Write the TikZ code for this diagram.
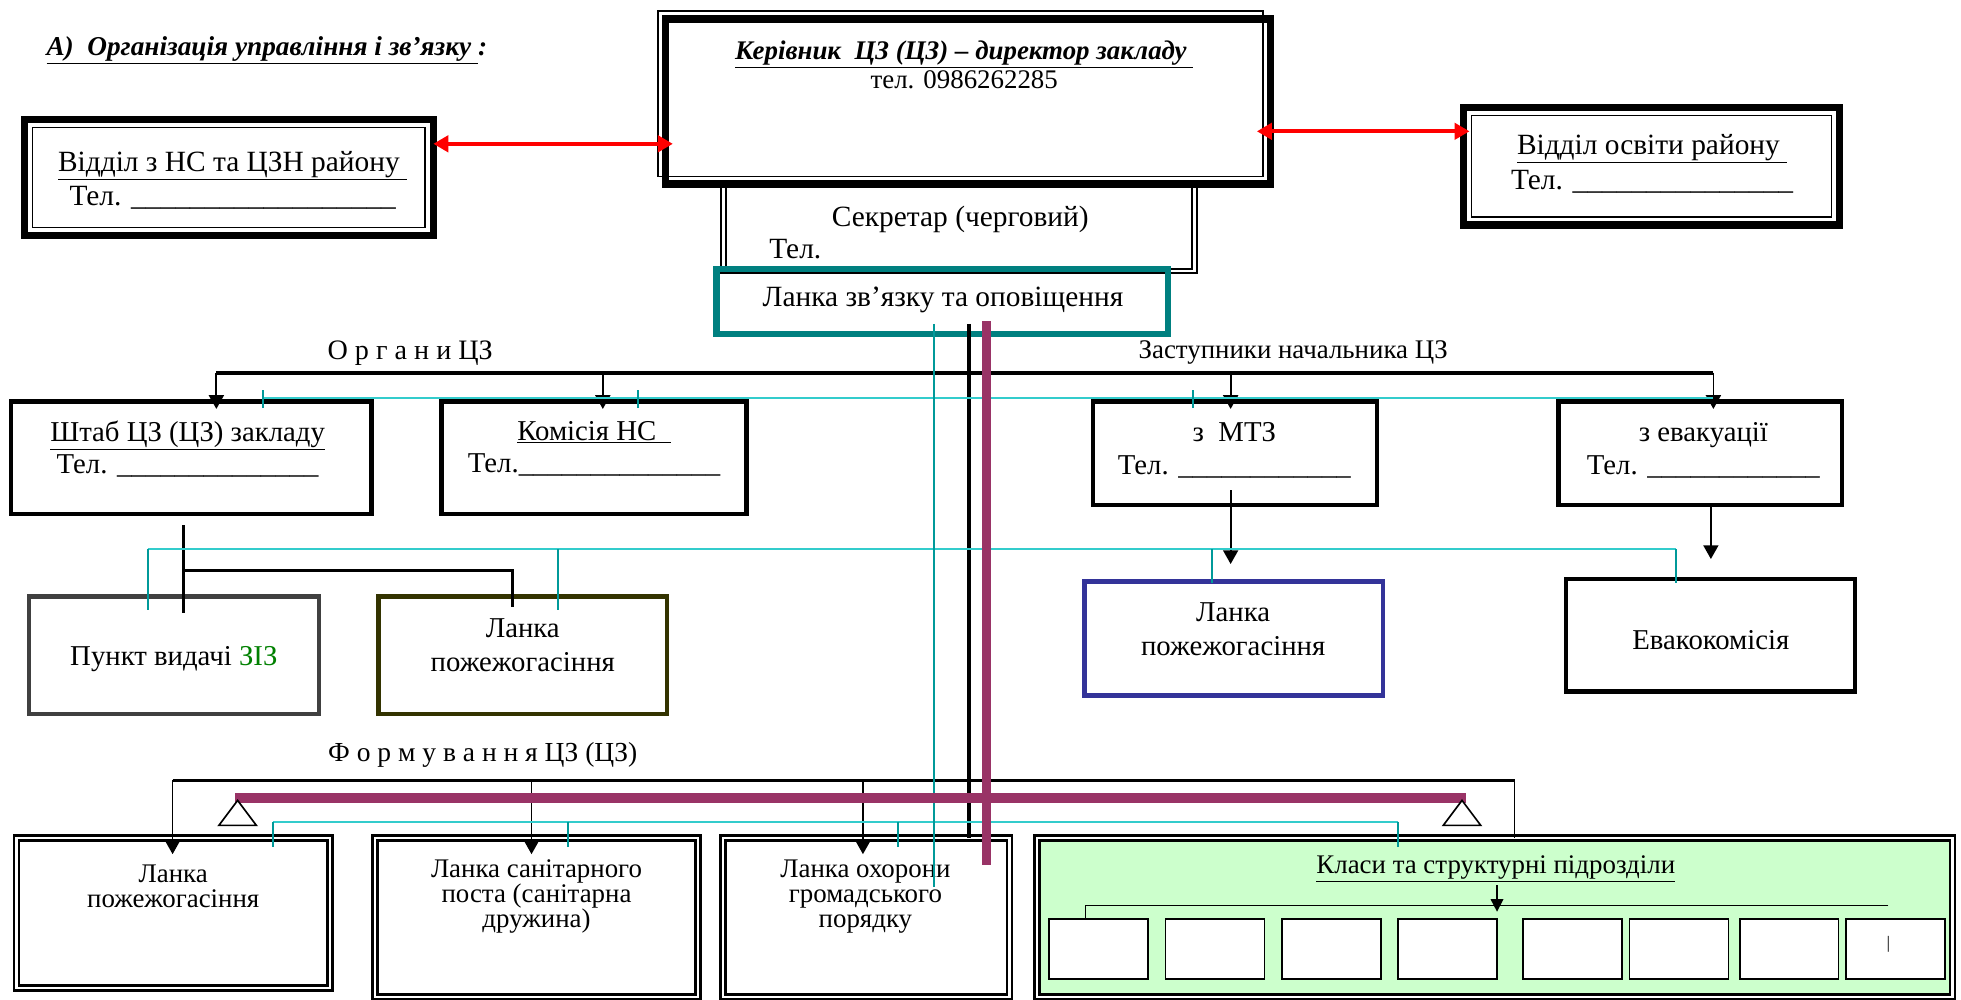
\documentclass[tikz,border=0pt]{standalone}
\usepackage{fontspec}
\setmainfont{Liberation Serif}
\usetikzlibrary{arrows.meta,positioning}

\definecolor{zvteal}{RGB}{0,128,128}
\definecolor{tkteal}{RGB}{0,153,153}
\definecolor{bsteal}{RGB}{51,204,204}
\definecolor{plum}{RGB}{153,51,102}
\definecolor{bluebox}{RGB}{51,51,153}
\definecolor{olivebox}{RGB}{51,51,0}
\definecolor{greybox}{RGB}{64,64,64}
\definecolor{classfill}{RGB}{204,255,204}
\definecolor{zizgreen}{RGB}{0,128,0}

\begin{document}
\begin{tikzpicture}[x=1pt,y=-1pt,>={Triangle[length=11pt,width=12pt]},
    txt/.style 2 args={font=\fontsize{#1}{#2}\selectfont,align=center,inner sep=0pt},
    sz/.style 2 args={minimum width=#1,minimum height=#2},
    hbox/.style={draw,line width=3.5pt,outer sep=0pt,inner sep=0pt},
    fbox/.style={draw,line width=6pt,outer sep=0pt,inner sep=0pt},
    dbox/.style={draw,double,line width=2pt,double distance=2pt,outer sep=0pt,inner sep=0pt},
    cls/.style={draw,fill=white,line width=1.4pt,minimum width=79,minimum height=48,inner sep=0pt},
    bus/.style={line width=3pt},
    drop/.style={line width=1.4pt},
    cyl/.style={bsteal,line width=1.5pt},
    cyd/.style={tkteal,line width=1.5pt},
    plm/.style={plum,line width=7.5pt},
    redarr/.style={<->,red,line width=3pt,>={Triangle[length=12pt,width=13pt]}}]
  \useasboundingbox (0,0) rectangle (1568,799);

  \node[anchor=west,inner sep=0pt,font=\fontsize{21.8}{24}\selectfont\bfseries\itshape] (title) at (37,40)
    {\underline{А)\ \ Організація управління і зв’язку\ }:};

  % top row
  \node[dbox,line width=1.6pt,sz={376.5}{69.5}] (sec) at (766.75,181.75) {};
  \node[fbox,sz={484}{132}] (dir) at (774,81) {};
  \draw[line width=1.2pt] ([shift={(-6pt,6pt)}]dir.north west) rectangle ([shift={(-6pt,6pt)}]dir.south east);
  \node[fbox,sz={327}{93}] (vnc) at (183,142) {};
  \draw[line width=1.2pt] ([shift={(6.5pt,-6.5pt)}]vnc.north west) rectangle ([shift={(-6.5pt,6.5pt)}]vnc.south east);
  \node[fbox,sz={301}{94}] (vos) at (1320.5,133) {};
  \draw[line width=1.2pt] ([shift={(6.5pt,-6.5pt)}]vos.north west) rectangle ([shift={(-6.5pt,6.5pt)}]vos.south east);
  \node[draw=zvteal,line width=5pt,outer sep=0pt,sz={361}{52}] (link) at (753.5,241) {};

  \node[txt={21.5}{23}] (dirT) at (771,52) {\textbf{\textit{\underline{Керівник\ \ ЦЗ (ЦЗ) – директор закладу\ }}}\\ тел. 0986262285};
  \node[txt={23.5}{27}] (vncT) at (186,144) {\underline{Відділ з НС та ЦЗН району\ }\\ Тел. \_\_\_\_\_\_\_\_\_\_\_\_\_\_\_\_\_\_};
  \node[txt={23.5}{28}] (vosT) at (1321,131) {\underline{Відділ освіти району\ }\\ Тел. \_\_\_\_\_\_\_\_\_\_\_\_\_\_\_};
  \node[txt={23.5}{26},align=left,anchor=west] (secT) at (615,186) {\hspace*{50pt}Секретар (черговий)\\ Тел.};
  \node[txt={23.5}{26}] (linkT) at (754,240) {Ланка зв’язку та оповіщення};

  % second row
  \node[txt={22.5}{26}] (orgL) at (328,282) {О р г а н и ЦЗ};
  \node[txt={21.5}{26}] (zamL) at (1034,282) {Заступники начальника ЦЗ};
  \node[hbox,sz={288}{90}] (shtab) at (153,366) {};
  \node[hbox,sz={244}{90}] (kom) at (475,366) {};
  \node[hbox,sz={227}{83}] (mtz) at (987.5,362.5) {};
  \node[hbox,sz={227}{83}] (evak) at (1359.5,362.5) {};
  \node[txt={23}{26}] (shtabT) at (150,359) {\underline{Штаб ЦЗ (ЦЗ) закладу}\\ Тел. \_\_\_\_\_\_\_\_\_\_\_\_\_\_};
  \node[txt={23}{26}] (komT) at (475,359) {\underline{Комісія НС\ \ }\\ Тел.\_\_\_\_\_\_\_\_\_\_\_\_\_\_};
  \node[txt={23}{26}] (mtzT) at (987,360) {з\ \ МТЗ\\ Тел. \_\_\_\_\_\_\_\_\_\_\_\_};
  \node[txt={23}{26}] (evakT) at (1362,360) {з евакуації\\ Тел. \_\_\_\_\_\_\_\_\_\_\_\_};

  % third row
  \node[draw=greybox,line width=3.5pt,outer sep=0pt,sz={232}{94}] (punkt) at (139,524) {};
  \node[draw=olivebox,line width=3.5pt,outer sep=0pt,sz={231}{94}] (lpA) at (418,524) {};
  \node[draw=bluebox,line width=3.5pt,outer sep=0pt,sz={239}{91}] (lpB) at (986.5,510.5) {};
  \node[hbox,sz={231}{90}] (evk) at (1367.5,508) {};
  \node[txt={23}{26}] (punktT) at (139,527) {Пункт видачі \textcolor{zizgreen}{ЗІЗ}};
  \node[txt={23}{27}] (lpAT) at (418,516) {Ланка\\ пожежогасіння};
  \node[txt={23}{27}] (lpBT) at (986,503) {Ланка\\ пожежогасіння};
  \node[txt={23}{26}] (evkT) at (1368,512) {Евакокомісія};

  % bottom row
  \node[txt={22}{26}] (frmL) at (386,604) {Ф о р м у в а н н я ЦЗ (ЦЗ)};
  \node[dbox,sz={251}{120}] (b1) at (138.5,730) {};
  \node[dbox,sz={258}{127}] (b2) at (429,733.5) {};
  \node[dbox,sz={229}{127}] (b3) at (692.5,733.5) {};
  \node[dbox,fill=classfill,sz={732}{127}] (cls) at (1195,733.5) {};
  \node[txt={21.5}{20}] (b1T) at (138.5,709) {Ланка\\ пожежогасіння};
  \node[txt={21.5}{20}] (b2T) at (429,717) {Ланка санітарного\\ поста (санітарна\\ дружина)};
  \node[txt={21.5}{20}] (b3T) at (692,717) {Ланка охорони\\ громадського\\ порядку};
  \node[txt={21.5}{26}] (clsT) at (1196,695) {\underline{Класи та структурні підрозділи}};
  \foreach \x [count=\i] in {839,932,1025,1118,1218,1303,1391,1476}
    \node[cls] (s\i) at (\x+39.5,759) {};
  \node[inner sep=0pt,font=\fontsize{14}{14}\selectfont] (s8mark) at (1510,755) {|};

  % red links
  \coordinate (rd_a) at ([yshift=27pt]vnc.east);
  \draw[redarr,shorten >=-6pt] (rd_a) -- (rd_a -| dir.west);
  \coordinate (rd_c) at ([yshift=-24pt]dir.east);
  \draw[redarr,shorten <=-11pt,shorten >=-5pt] (rd_c) -- (rd_c -| vos.west);

  % Органи ЦЗ / заступники
  \coordinate (org_l) at (173,298);
  \coordinate (org_k) at (482,298);
  \coordinate (org_m) at (984,298);
  \coordinate (org_r) at (1370,298);
  \draw[bus] (org_l) -- (org_r);
  \foreach \c/\b in {org_l/shtab,org_k/kom,org_m/mtz,org_r/evak}
    \draw[->,drop,shorten >=-6pt] (\c) -- (\c |- \b.north);

  % from Штаб
  \coordinate (sh_a) at (147,420);
  \coordinate (sh_b) at (147,456);
  \coordinate (sh_c) at (410,456);
  \draw[line width=2.5pt] (sh_a) -- (sh_a |- punkt.north) -- ++(0,13);
  \draw[line width=2.5pt] (sh_b) -- (sh_c) -- (sh_c |- lpA.north) -- ++(0,8);

  % from МТЗ and евакуації
  \coordinate (mt_a) at (984,392);
  \draw[->,drop,shorten >=14pt] (mt_a) -- (mt_a |- lpB.north);
  \coordinate (ev_a) at (1368,404);
  \draw[->,drop,shorten >=16pt] (ev_a) -- (ev_a |- evk.north);

  % Формування
  \coordinate (fm_l) at (138,624);
  \coordinate (fm_b) at (425,624);
  \coordinate (fm_c) at (690,624);
  \coordinate (fm_r) at (1211,624);
  \draw[line width=2.5pt] (fm_l) -- (fm_r);
  \foreach \c/\b in {fm_l/b1,fm_b/b2,fm_c/b3}
    \draw[->,drop,shorten >=-13pt] (\c) -- (\c |- \b.north);
  \draw[drop] (fm_r) -- (fm_r |- cls.north);

  % black line from Ланка зв'язку
  \coordinate (lk_k) at (775,259);
  \draw[line width=3pt] (lk_k) -- (lk_k |- b3.north);

  % classes
  \coordinate (cl_a) at (868,724);
  \coordinate (cl_b) at (1510,724);
  \draw[line width=1.3pt] (cl_b) -- (cl_a) -- (cl_a |- s1.north);
  \coordinate (cl_c) at (1197,708);
  \draw[->,line width=1.3pt,shorten >=-5pt,>={Triangle[length=10pt,width=10pt]}] (cl_c) -- (cl_c |- cl_a);

  % teal lines
  \coordinate (zv_l) at (210,318);
  \coordinate (zv_r) at (1370,318);
  \draw[cyl] (zv_l) -- (zv_r);
  \foreach \x in {210,510,954}
    \draw[cyd] (\x,312) -- (\x,326);
  \coordinate (tm_l) at (118,439);
  \coordinate (tm_r) at (1340,439);
  \draw[cyl] (tm_l) -- (tm_r);
  \foreach \x/\y in {118/488,446/488,969/466,1340/466}
    \draw[cyd] (\x,439) -- (\x,\y);
  \coordinate (tb_l) at (218,657);
  \coordinate (tb_r) at (1118,657);
  \draw[cyl] (tb_l) -- (tb_r);
  \foreach \x in {218,454,718,1118}
    \draw[cyd] (\x,657) -- (\x,677);
  \coordinate (lk_t) at (747,259);
  \coordinate (lk_tb) at (747,709);
  \draw[cyd] (lk_t) -- (lk_tb);

  % plum lines
  \coordinate (mg_t) at (789,257);
  \coordinate (mg_b) at (789,692);
  \draw[plm] (mg_t) -- (mg_b);
  \coordinate (mg_l) at (188,638);
  \coordinate (mg_r) at (1172,638);
  \draw[plm] (mg_l) -- (mg_r);
  \draw[line width=1.3pt,fill=white] (175,660) -- (190,640) -- (205,660) -- cycle;
  \draw[line width=1.3pt,fill=white] (1154,660) -- (1169,640) -- (1184,660) -- cycle;
\end{tikzpicture}
\end{document}
